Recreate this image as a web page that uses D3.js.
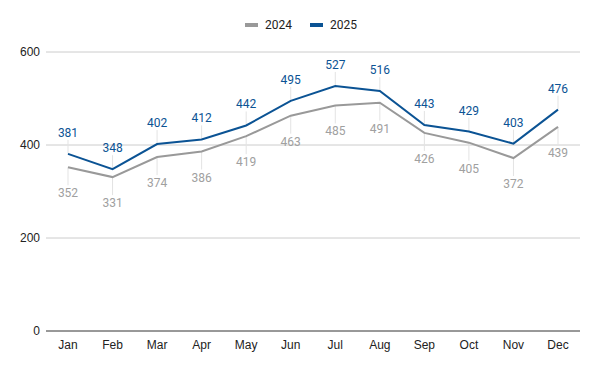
<!DOCTYPE html>
<html>
<head>
<meta charset="utf-8">
<script src="https://cdn.jsdelivr.net/npm/d3@7.9.0/dist/d3.min.js"></script>
<style>
  body { margin: 0; background: #fff; }
  svg { font-family: Roboto, Arial, sans-serif; }
  .axis-label { font-family: Arial, "Liberation Sans", sans-serif; }
</style>
</head>
<body>
<div id="chart"></div>
<script>
const months = ['Jan','Feb','Mar','Apr','May','Jun','Jul','Aug','Sep','Oct','Nov','Dec'];
const values2024 = [352, 331, 374, 386, 419, 463, 485, 491, 426, 405, 372, 439];
const values2025 = [381, 348, 402, 412, 442, 495, 527, 516, 443, 429, 403, 476];
const yTicks = [0, 200, 400, 600];

const series = [
  { name: '2024', values: values2024, color: '#999999', labelColor: '#a0a0a0', above: false },
  { name: '2025', values: values2025, color: '#0b5394', labelColor: '#0b5394', above: true },
];

const width = 600, height = 371;
const margin = { top: 52, right: 20, bottom: 40, left: 46 };

const svg = d3.select('#chart').append('svg')
  .attr('width', width)
  .attr('height', height);

const xScale = d3.scalePoint()
  .domain(months)
  .range([68, 558]);

const yScale = d3.scaleLinear()
  .domain([0, 600])
  .range([331, 52]);

// gridlines
svg.append('g')
  .selectAll('line')
  .data(yTicks.filter(d => d !== 0))
  .join('line')
    .attr('x1', margin.left)
    .attr('x2', width - margin.right)
    .attr('y1', d => yScale(d))
    .attr('y2', d => yScale(d))
    .attr('stroke', '#cccccc');

// y axis labels
svg.append('g')
  .selectAll('text')
  .data(yTicks)
  .join('text')
    .attr('class', 'axis-label')
    .attr('x', 40)
    .attr('y', d => yScale(d) + 4)
    .attr('text-anchor', 'end')
    .attr('font-size', 12)
    .attr('fill', '#222')
    .text(d => d);

// annotation stems
series.forEach(s => {
  svg.append('g')
    .selectAll('line')
    .data(s.values)
    .join('line')
      .attr('x1', (d, i) => xScale(months[i]))
      .attr('x2', (d, i) => xScale(months[i]))
      .attr('y1', d => yScale(d))
      .attr('y2', d => s.above ? yScale(d) - 14 : yScale(d) + 18)
      .attr('stroke', '#e3e3e3')
      .attr('stroke-width', 1);
});

// baseline
svg.append('line')
  .attr('x1', margin.left)
  .attr('x2', width - margin.right)
  .attr('y1', yScale(0))
  .attr('y2', yScale(0))
  .attr('stroke', '#333');

// x axis labels
svg.append('g')
  .selectAll('text')
  .data(months)
  .join('text')
    .attr('class', 'axis-label')
    .attr('x', d => xScale(d))
    .attr('y', 349)
    .attr('text-anchor', 'middle')
    .attr('font-size', 12)
    .attr('fill', '#222')
    .text(d => d);

// lines
const line = d3.line()
  .x((d, i) => xScale(months[i]))
  .y(d => yScale(d));

series.forEach(s => {
  svg.append('path')
    .datum(s.values)
    .attr('fill', 'none')
    .attr('stroke', s.color)
    .attr('stroke-width', 2)
    .attr('d', line);
});

// annotations
series.forEach(s => {
  svg.append('g')
    .selectAll('text')
    .data(s.values)
    .join('text')
      .attr('x', (d, i) => xScale(months[i]))
      .attr('y', d => s.above ? yScale(d) - 17 : yScale(d) + 30)
      .attr('text-anchor', 'middle')
      .attr('font-size', 12)
      .attr('fill', s.labelColor)
      .text(d => d);
});

// legend
const legend = svg.append('g');
const legendX = [245, 310];
series.forEach((s, i) => {
  legend.append('line')
    .attr('x1', legendX[i])
    .attr('x2', legendX[i] + 13)
    .attr('y1', 25)
    .attr('y2', 25)
    .attr('stroke', s.color)
    .attr('stroke-width', 4);
  legend.append('text')
    .attr('x', legendX[i] + 20)
    .attr('y', 29)
    .attr('font-size', 12)
    .attr('fill', '#222')
    .text(s.name);
});
</script>
</body>
</html>
